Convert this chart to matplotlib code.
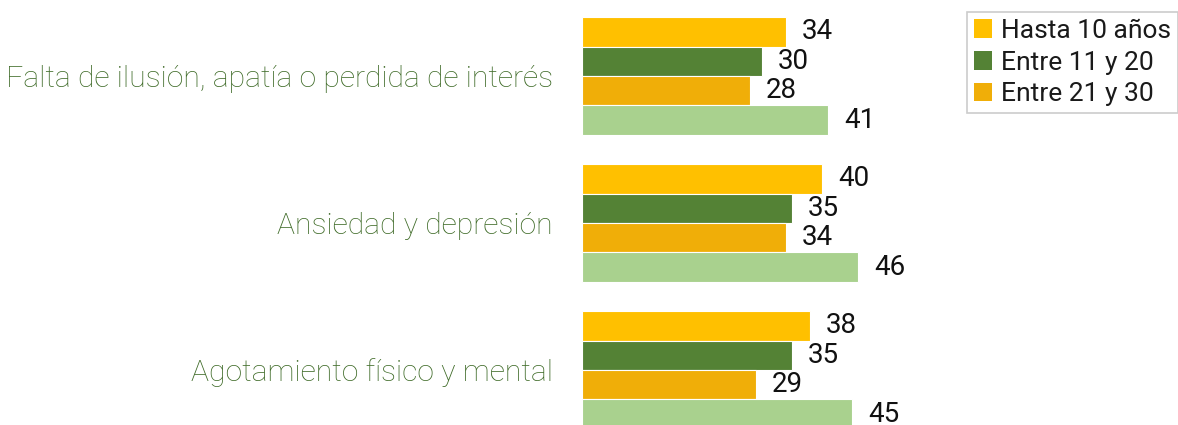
import matplotlib
matplotlib.use("Agg")
import matplotlib.pyplot as plt
from matplotlib.patches import Patch
import numpy as np

categories = ["Falta de ilusión, apatía o perdida de interés",
              "Ansiedad y depresión",
              "Agotamiento físico y mental"]
series_names = ["Hasta 10 años", "Entre 11 y 20", "Entre 21 y 30", "Más de 30"]
values = [
    [34, 40, 38],
    [30, 35, 35],
    [28, 34, 29],
    [41, 46, 45],
]
colors = ["#FFC000", "#548235", "#F0AE08", "#A9D18E"]

plt.rcParams['font.family'] = ['Roboto', 'DejaVu Sans']

W, H = 1178, 425
fig = plt.figure(figsize=(W / 100, H / 100), dpi=100)
ax = fig.add_axes([582 / W, 0, (960 - 582) / W, 1])

y = np.arange(len(categories))
bh = 0.2
offsets = [-0.3, -0.1, 0.1, 0.3]
for i, (vals, c) in enumerate(zip(values, colors)):
    bars = ax.barh(y + offsets[i], vals, height=bh, color=c,
                   edgecolor="white", linewidth=0.8)
    for b, v in zip(bars, vals):
        ax.text(b.get_width() + 2.7, b.get_y() + b.get_height() / 2, f"{v}",
                va="center", ha="left", fontsize=20, color="#111111")

ax.set_xlim(0, 63)
ax.set_ylim((H - 76) / 147, -76 / 147)
ax.set_yticks(y)
ax.set_yticklabels(categories, fontsize=21.7, color="#3F6B28", fontweight="light")
ax.tick_params(axis="y", length=0, pad=21)
ax.set_xticks([])
for s in ax.spines.values():
    s.set_visible(False)

handles = [Patch(facecolor=c, edgecolor="none") for c in colors[:3]]
leg = fig.legend(handles, series_names[:3], loc="upper left",
                 bbox_to_anchor=(967 / W, 1 - 12 / H), fontsize=19,
                 frameon=True, fancybox=False, handlelength=0.7,
                 handleheight=0.7, handletextpad=0.35, labelspacing=0.3,
                 borderpad=0.25, borderaxespad=0)
leg.get_frame().set_edgecolor("#BFBFBF")
leg.get_frame().set_linewidth(1.2)
for t in leg.get_texts():
    t.set_color("#1a1a1a")

fig.savefig("out.png", dpi=100)
